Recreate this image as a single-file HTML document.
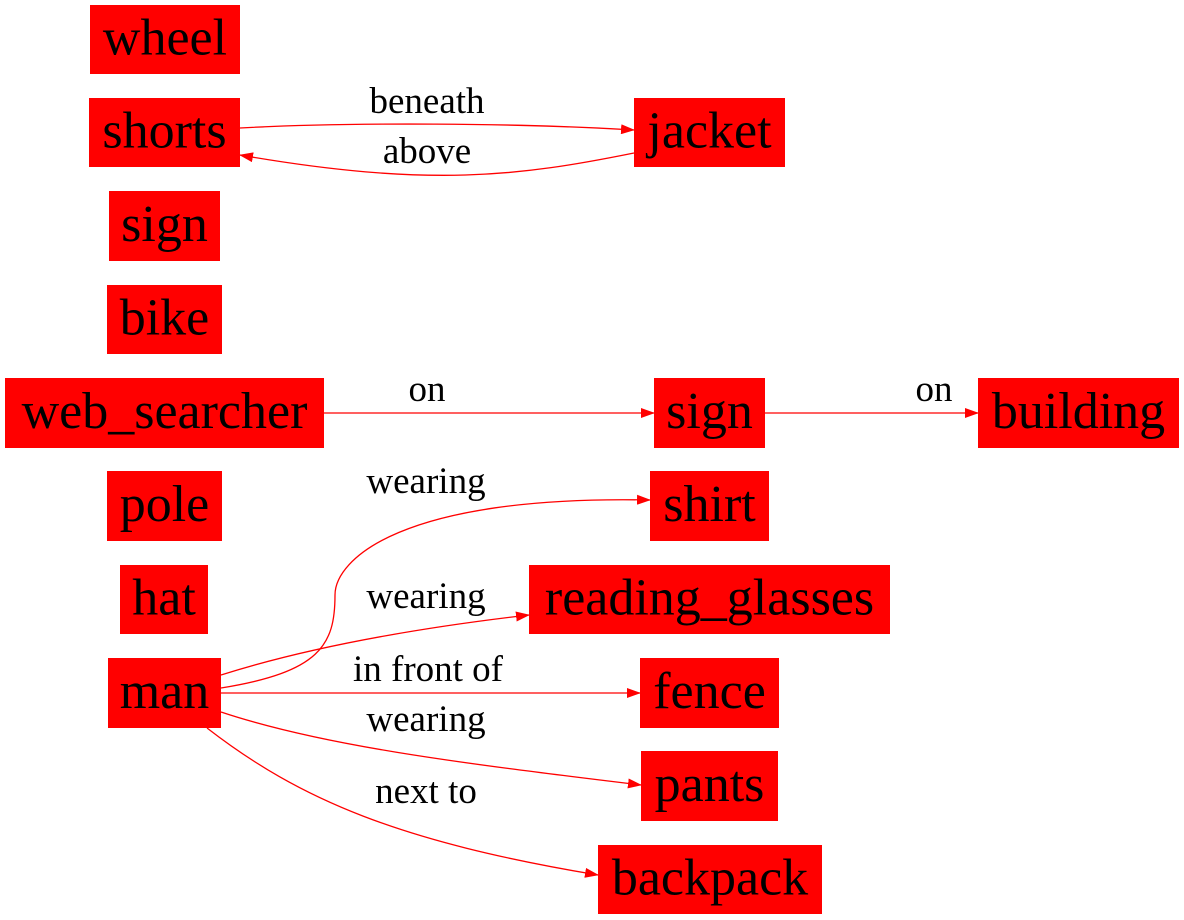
<!DOCTYPE html>
<html><head><meta charset="utf-8">
<style>
html,body{margin:0;padding:0;background:#fff;}
svg{display:block;}
text{font-family:"Liberation Serif",serif;fill:#000;}
</style></head>
<body>
<svg id="g" width="1184" height="920" viewBox="0 0 1184 920">
<defs>
<marker id="ah" markerWidth="14" markerHeight="10" refX="13" refY="5" orient="auto" markerUnits="userSpaceOnUse">
<path d="M0,0 L14,5 L0,10 Z" fill="#ff0000"/>
</marker>
</defs>
<g id="edges"></g>
<g id="nodes"></g>
</svg>
<script>
const nodeNames = ["wheel","shorts","sign","bike","web_searcher","pole","hat","man","jacket","sign","building","shirt","reading_glasses","fence","pants","backpack"];
const nodeBoxes = [[90,5,240,74],[89,98,240,167],[109,191,220,261],[107,285,222,354],[5,378,324,448],[107,471,222,541],[120,565,208,634],[108,658,221,728],[634,98,785,167],[654,378,765,448],[978,378,1179,448],[650,471,769,541],[529,565,890,634],[640,658,779,728],[641,751,778,821],[598,845,822,914]];
const edgeLabels = ["beneath","above","on","on","wearing","wearing","in front of","wearing","next to"];
const edgePaths = [
"M240,128 C350,122 520,123 634,130",
"M634,153 C520,176 430,188 240,155",
"M324,413 L654,413",
"M765,413 L978,413",
"M221,688 C320,672 335,645 335,595 C335,560 400,495 650,500",
"M221,675 C300,650 400,630 529,615",
"M221,693 L640,693",
"M221,712 C320,745 450,762 641,785",
"M207,728 C300,800 400,842 598,875"];
const labelPos = [[427,113],[427,163],[427,401],[934,401],[426,493],[426,608],[428,681],[426,731],[426,803]];

const ns="http://www.w3.org/2000/svg";
const eg=document.getElementById('edges'), ng=document.getElementById('nodes');
edgePaths.forEach((d,i)=>{
  const p=document.createElementNS(ns,'path');
  p.setAttribute('d',d);p.setAttribute('fill','none');p.setAttribute('stroke','#ff0000');p.setAttribute('stroke-width','1.3');
  p.setAttribute('marker-end','url(#ah)');
  
  
  eg.appendChild(p);
  const t=document.createElementNS(ns,'text');
  t.setAttribute('x',labelPos[i][0]);t.setAttribute('y',labelPos[i][1]);
  t.setAttribute('text-anchor','middle');t.setAttribute('font-size','37');
  t.textContent=edgeLabels[i];
  
  
  eg.appendChild(t);
});
nodeNames.forEach((n,i)=>{
  const b=nodeBoxes[i];
  const g=document.createElementNS(ns,'g');
  
  
  const r=document.createElementNS(ns,'rect');
  r.setAttribute('x',b[0]);r.setAttribute('y',b[1]);r.setAttribute('width',b[2]-b[0]);r.setAttribute('height',b[3]-b[1]);
  r.setAttribute('fill','#ff0000');
  g.appendChild(r);
  const t=document.createElementNS(ns,'text');
  t.setAttribute('x',(b[0]+b[2])/2);t.setAttribute('y',(b[1]+b[3])/2+15);
  t.setAttribute('text-anchor','middle');t.setAttribute('font-size','52');
  t.textContent=n;
  g.appendChild(t);
  ng.appendChild(g);
});
</script>
</body></html>
